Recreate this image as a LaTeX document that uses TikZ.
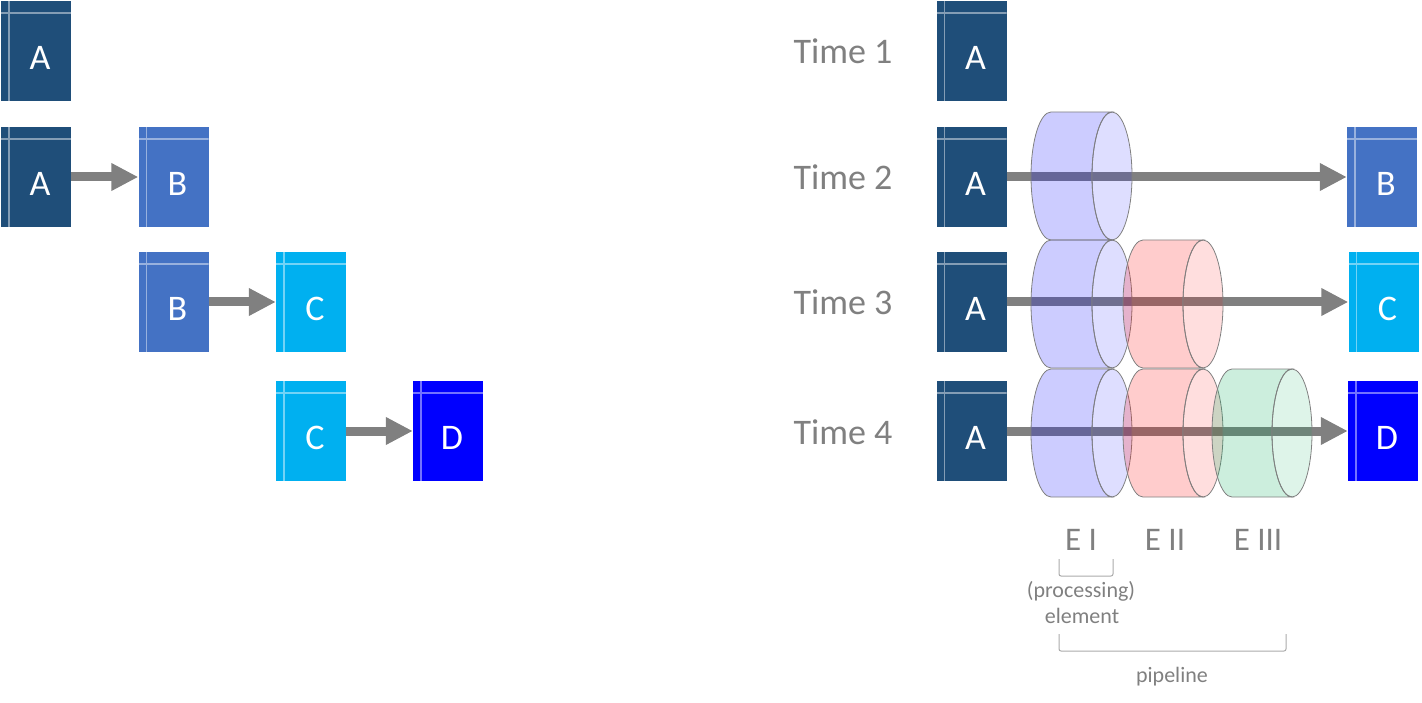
\documentclass[tikz,border=0pt]{standalone}
\usepackage{fontspec}
\setmainfont{Carlito}
\usetikzlibrary{arrows.meta}

\definecolor{boxA}{RGB}{31,78,121}
\definecolor{boxB}{RGB}{68,114,196}
\definecolor{boxC}{RGB}{0,176,240}
\definecolor{boxD}{RGB}{0,0,255}
\definecolor{cylblue}{RGB}{0,0,255}
\definecolor{cylred}{RGB}{255,0,0}
\definecolor{cylgreen}{RGB}{0,170,85}
\definecolor{txtgray}{RGB}{128,128,128}
\definecolor{brgray}{RGB}{170,170,170}

\tikzset{
	block/.style={rectangle, inner sep=0pt, minimum width=70pt, minimum height=100pt, fill=#1,
		path picture={\draw[white, opacity=.45, line width=1.5pt]
			([xshift=8pt]path picture bounding box.north west) -- ([xshift=8pt]path picture bounding box.south west)
			([yshift=-12pt]path picture bounding box.north west) -- ([yshift=-12pt]path picture bounding box.north east);}},
	letter/.style={white, font=\fontsize{36}{40}\selectfont, xshift=4pt, yshift=-7pt},
	flow/.style={draw=txtgray, line width=9pt, -{Triangle[length=27pt, width=26pt]}},
	timelabel/.style={anchor=west, text=txtgray, font=\fontsize{36}{40}\selectfont},
	elabel/.style={anchor=base, text=txtgray, font=\fontsize{33}{36}\selectfont},
	small/.style={anchor=base, text=txtgray, font=\fontsize{22}{24}\selectfont},
	bracket/.style={draw=brgray, line width=1pt, rounded corners=2pt}
}

% cylinder: left centre x, right centre x, centre y, colour
\newcommand{\drawcyl}[4]{
	\draw[txtgray, line width=.8pt, fill=#4, fill opacity=.2]
		(#1,#3-64) -- (#2,#3-64) arc[start angle=90, end angle=270, x radius=20pt, y radius=64pt]
		-- (#1,#3+64) arc[start angle=270, end angle=90, x radius=20pt, y radius=64pt] -- cycle;
	\draw[txtgray, line width=.8pt, fill=#4, fill opacity=.13] (#2,#3) ellipse[x radius=20pt, y radius=64pt];
}

\begin{document}
\begin{tikzpicture}[x=1pt, y=-1pt]
	\useasboundingbox (0,0) rectangle (1422,703);

	% sequential
	\node[block=boxA, label={[letter]center:A}] (a1) at (36,51) {};
	\node[block=boxA, label={[letter]center:A}] (a2) at (36,177) {};
	\node[block=boxB, label={[letter]center:B}] (b1) at (173.5,177) {};
	\node[block=boxB, label={[letter]center:B}] (b2) at (173.5,302) {};
	\node[block=boxC, label={[letter]center:C}] (c1) at (311,302) {};
	\node[block=boxC, label={[letter]center:C}] (c2) at (311,431) {};
	\node[block=boxD, label={[letter]center:D}] (d) at (448,431) {};

	\draw[flow] (a2) -- (b1);
	\draw[flow] (b2) -- (c1);
	\draw[flow] (c2) -- (d);

	% pipelined
	\node[timelabel] (t1) at (790,51) {Time 1};
	\node[timelabel] (t2) at (790,177) {Time 2};
	\node[timelabel] (t3) at (790,302) {Time 3};
	\node[timelabel] (t4) at (790,432) {Time 4};

	\node[block=boxA, label={[letter]center:A}] (ra1) at (971.5,51) {};
	\node[block=boxA, label={[letter]center:A}] (ra2) at (971.5,177) {};
	\node[block=boxA, label={[letter]center:A}] (ra3) at (971.5,302) {};
	\node[block=boxA, label={[letter]center:A}] (ra4) at (971.5,431) {};
	\node[block=boxB, label={[letter]center:B}] (rb) at (1382,177) {};
	\node[block=boxC, label={[letter]center:C}] (rc) at (1383.5,302) {};
	\node[block=boxD, label={[letter]center:D}] (rd) at (1383,431) {};

	\draw[flow] (ra2) -- (rb);
	\draw[flow] (ra3) -- (rc);
	\draw[flow] (ra4) -- (rd);

	\drawcyl{1051}{1112}{176}{cylblue}
	\drawcyl{1051}{1112}{304}{cylblue}
	\drawcyl{1143}{1203}{304}{cylred}
	\drawcyl{1051}{1112}{433}{cylblue}
	\drawcyl{1143}{1203}{433}{cylred}
	\drawcyl{1232}{1292}{433}{cylgreen}

	\node[elabel] (e1) at (1081,550) {E I};
	\node[elabel] (e2) at (1165,550) {E II};
	\node[elabel] (e3) at (1258,550) {E III};

	\draw[bracket] (1059,559) |- (1113,576) -- (1113,559);
	\node[small] (proc) at (1081,597) {(processing)};
	\node[small] (elem) at (1082,623) {element};

	\draw[bracket] (1059,634) |- (1286,651) -- (1286,634);
	\node[small] (pipe) at (1172,682) {pipeline};
\end{tikzpicture}
\end{document}
